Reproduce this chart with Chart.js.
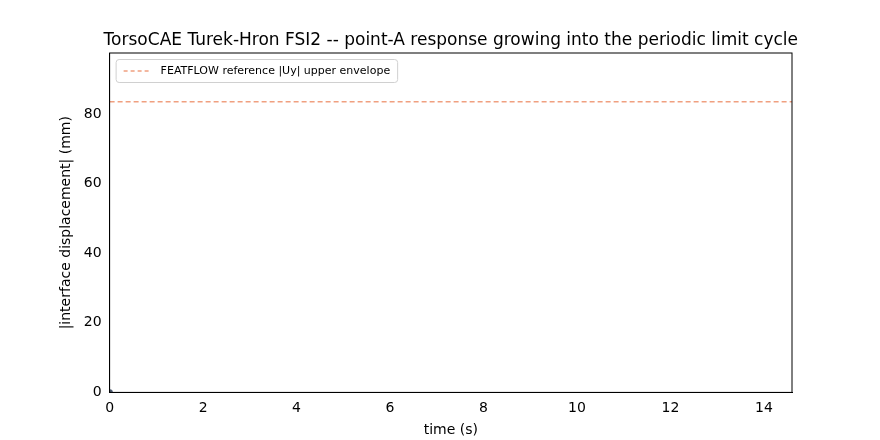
<!DOCTYPE html>
<html><head><meta charset="utf-8">
<script src="https://cdn.jsdelivr.net/npm/chart.js@4"></script>
<style>html,body{margin:0;background:#fff}#w{width:880px;height:440px}</style>
</head><body><div id="w"><canvas id="c"></canvas></div>
<script>
const responseTime=[0];
const responseUy=[0];
const refTime=[0,14.6];
const refUy=[83.5,83.5];
const xTicks=[0,2,4,6,8,10,12,14];
const yTicks=[0,20,40,60,80];
const legendLabel='FEATFLOW reference |Uy| upper envelope';
const titleText='TorsoCAE Turek-Hron FSI2 -- point-A response growing into the periodic limit cycle';
const F='"DejaVu Sans", sans-serif';
const legendPlugin={id:'lg',afterDraw(ch){const a=ch.chartArea,c=ch.ctx;c.save();
c.font='11px '+F;const w=c.measureText(legendLabel).width;
const x=a.left+6,y=a.top+6,bw=w+52,bh=23;
c.fillStyle='rgba(255,255,255,0.8)';c.strokeStyle='#d0d0d0';c.lineWidth=1;
c.beginPath();c.roundRect(x+.5,y+.5,bw,bh,3);c.fill();c.stroke();
c.strokeStyle='#f0a080';c.setLineDash([4,3]);c.lineWidth=1.3;c.beginPath();c.moveTo(x+8,y+12);c.lineTo(x+34,y+12);c.stroke();c.setLineDash([]);
c.fillStyle='#000';c.textBaseline='middle';c.fillText(legendLabel,x+45,y+12.5);
const cx=(a.left+a.right)/2;c.font='17px '+F;c.textAlign='center';c.textBaseline='alphabetic';c.fillText(titleText,cx,a.top-8);
c.restore();}};
const frame={id:'fr',afterDraw(ch){const a=ch.chartArea,c=ch.ctx;c.save();c.strokeStyle='#000';c.lineWidth=1;c.strokeRect(a.left,a.top,a.right-a.left,a.bottom-a.top);c.restore();}};
new Chart(document.getElementById('c'),{type:'scatter',
data:{datasets:[
{data:refTime.map((t,i)=>({x:t,y:refUy[i]})),showLine:true,borderColor:'#f0a080',borderDash:[5,3],borderWidth:1.3,pointRadius:0},
{data:responseTime.map((t,i)=>({x:t,y:responseUy[i]})),showLine:true,borderColor:'#4c5a70',backgroundColor:'#4c5a70',pointRadius:2.5,borderWidth:1.5}
]},
options:{responsive:true,maintainAspectRatio:false,animation:false,
layout:{padding:{left:58,right:88,top:53,bottom:1}},
plugins:{legend:{display:false},tooltip:{enabled:false},title:{display:false}},
scales:{
x:{type:'linear',min:0,max:14.6,afterBuildTicks(s){s.ticks=xTicks.map(v=>({value:v}))},
grid:{display:false,drawTicks:true,tickLength:5,tickColor:'#000'},border:{color:'#000'},
ticks:{color:'#000',font:{family:F,size:14},padding:3},
title:{display:true,text:'time (s)',color:'#000',font:{family:F,size:14},padding:{top:2,bottom:0}}},
y:{type:'linear',min:0,max:97.5,afterBuildTicks(s){s.ticks=yTicks.map(v=>({value:v}))},
grid:{display:false,drawTicks:true,tickLength:5,tickColor:'#000'},border:{color:'#000'},
ticks:{color:'#000',font:{family:F,size:14},padding:3},
title:{display:true,text:'|interface displacement| (mm)',color:'#000',font:{family:F,size:14},padding:{top:0,bottom:6}}}
}},plugins:[legendPlugin,frame]});
</script></body></html>
